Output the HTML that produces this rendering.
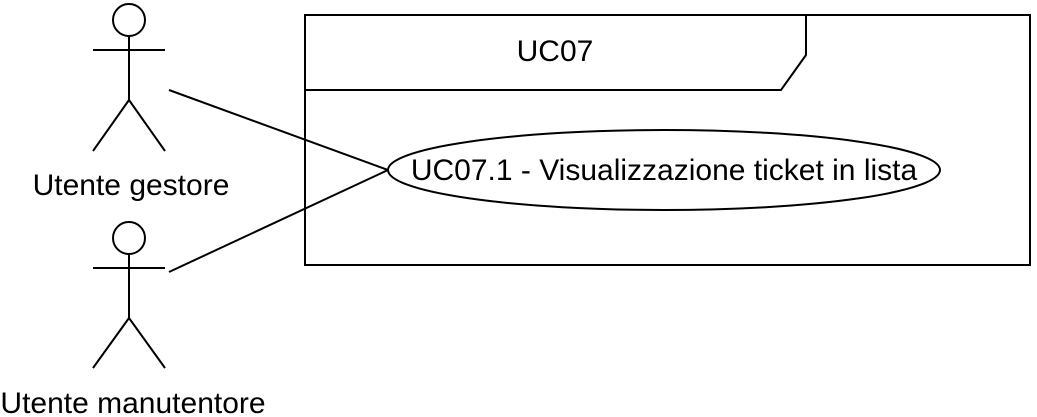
<!DOCTYPE html>
<html><head><meta charset="utf-8"><style>
html,body{margin:0;padding:0;background:#fff;width:1037px;height:417px;overflow:hidden}
svg{display:block}
text{font-family:"Liberation Sans",Arial,sans-serif;font-size:30px;fill:#000}
</style></head><body>
<svg width="1037" height="417" viewBox="0 0 1037 417" xmlns="http://www.w3.org/2000/svg">
<g fill="none" stroke="#000" stroke-width="2">
<circle cx="129" cy="20" r="16" fill="#fff"/>
<line x1="129" y1="36" x2="129" y2="100"/>
<line x1="93" y1="50" x2="165" y2="50"/>
<line x1="129" y1="100" x2="93" y2="151"/>
<line x1="129" y1="100" x2="165" y2="151"/>
<circle cx="129" cy="238" r="16" fill="#fff"/>
<line x1="129" y1="254" x2="129" y2="318"/>
<line x1="93" y1="268" x2="165" y2="268"/>
<line x1="129" y1="318" x2="93" y2="368"/>
<line x1="129" y1="318" x2="165" y2="368"/>
<rect x="305" y="15" width="725" height="250"/>
<polyline points="305,90 781,90 806,55 806,15"/>
<line x1="169" y1="90" x2="388" y2="170"/>
<line x1="169" y1="272" x2="388" y2="170"/>
<ellipse cx="664" cy="170" rx="276" ry="40" fill="#fff"/>
</g>
<text x="131" y="195" text-anchor="middle" font-size="30">Utente gestore</text>
<text x="133" y="413" text-anchor="middle" font-size="30">Utente manutentore</text>
<text x="555" y="61" text-anchor="middle" font-size="30">UC07</text>
<text x="664" y="180" text-anchor="middle" font-size="30">UC07.1 - Visualizzazione ticket in lista</text>
</svg>
</body></html>
